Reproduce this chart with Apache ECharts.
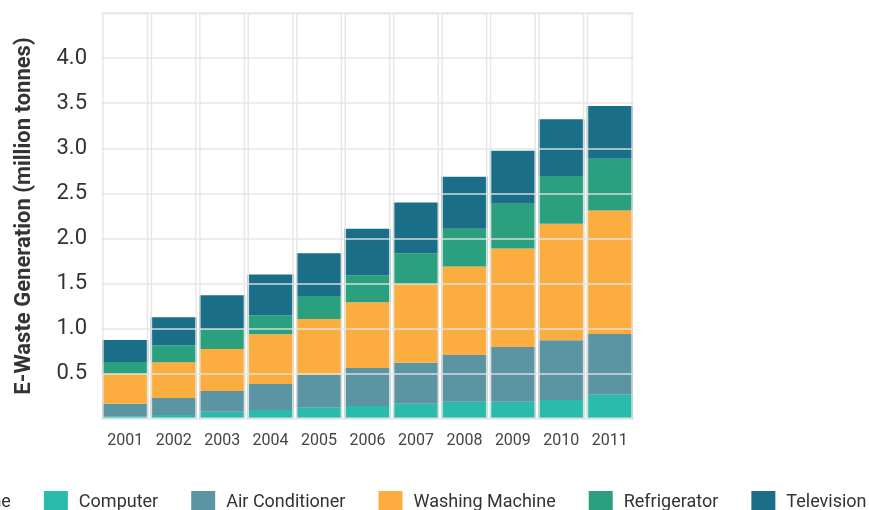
<!DOCTYPE html>
<html>
<head>
<meta charset="utf-8">
<title>E-Waste Generation</title>
<script src="https://cdn.jsdelivr.net/npm/echarts@6/dist/echarts.min.js"></script>
<style>
    html, body { margin: 0; padding: 0; background: #fff; }
    #chart { width: 869px; height: 510px; }
</style>
</head>
<body>
<div id="chart"></div>
<script>
// 年份（类目）
const years = ['2001', '2002', '2003', '2004', '2005', '2006', '2007', '2008', '2009', '2010', '2011'];
// 各类电器的电子垃圾量（百万吨）
const mobilePhone = [0.003, 0.01, 0.01, 0.01, 0.01, 0.01, 0.01, 0.01, 0.01, 0.01, 0.01];
const computer = [0.027, 0.035, 0.07, 0.09, 0.115, 0.135, 0.16, 0.18, 0.18, 0.20, 0.26];
const airConditioner = [0.14, 0.188, 0.231, 0.287, 0.364, 0.419, 0.453, 0.519, 0.607, 0.662, 0.673];
const washingMachine = [0.331, 0.397, 0.464, 0.552, 0.619, 0.729, 0.872, 0.982, 1.093, 1.292, 1.368];
const refrigerator = [0.132, 0.188, 0.221, 0.209, 0.254, 0.298, 0.342, 0.419, 0.497, 0.53, 0.574];
const television = [0.243, 0.31, 0.375, 0.453, 0.474, 0.518, 0.562, 0.575, 0.585, 0.629, 0.585];

const Y_MAX = 4.5;

const colors = {
    'Mobile Phone': '#9ccc3f',
    'Computer': '#2bbbad',
    'Air Conditioner': '#5b95a3',
    'Washing Machine': '#fbae3f',
    'Refrigerator': '#2aa07f',
    'Television': '#1a6e87'
};

const seriesData = [
    ['Mobile Phone', mobilePhone],
    ['Computer', computer],
    ['Air Conditioner', airConditioner],
    ['Washing Machine', washingMachine],
    ['Refrigerator', refrigerator],
    ['Television', television]
];

const chart = echarts.init(document.getElementById('chart'));

const series = seriesData.map(([name, data]) => ({
    name: name,
    type: 'bar',
    stack: 'total',
    data: data,
    barCategoryGap: '5%',
    itemStyle: { color: colors[name] }
}));

// 每列的外框（画在柱子上面）
series.push({
    name: 'frame',
    type: 'bar',
    data: years.map(() => Y_MAX),
    barGap: '-100%',
    barCategoryGap: '5%',
    silent: true,
    z: 4,
    itemStyle: {
        color: 'rgba(0,0,0,0)',
        borderColor: 'rgba(228,228,228,0.9)',
        borderWidth: 1.5
    }
});

chart.setOption({
    animation: false,
    textStyle: { fontFamily: 'Roboto' },
    grid: { left: 101, right: 235, top: 13, bottom: 91 },
    legend: {
        data: seriesData.map(d => d[0]),
        left: -139,
        top: 486,
        width: 1200,
        itemWidth: 24,
        itemHeight: 22,
        itemGap: 33,
        icon: 'rect',
        textStyle: { fontSize: 18, color: '#333', padding: [0, 0, 0, 6] }
    },
    xAxis: {
        type: 'category',
        data: years,
        axisLine: { show: false },
        axisTick: { show: false },
        axisLabel: { fontSize: 16, color: '#444', margin: 14 }
    },
    yAxis: {
        type: 'value',
        min: 0,
        max: Y_MAX,
        interval: 0.5,
        z: 3,
        name: 'E-Waste Generation (million tonnes)',
        nameLocation: 'middle',
        nameGap: 66,
        nameTextStyle: { fontSize: 22, fontWeight: 'bold', color: '#333' },
        axisLine: { show: false },
        axisTick: { show: false },
        axisLabel: {
            fontSize: 22,
            color: '#333',
            margin: 14,
            formatter: v => (v === 0 || v === Y_MAX) ? '' : v.toFixed(1)
        },
        splitLine: { lineStyle: { color: 'rgba(228,228,228,0.9)', width: 1.5 } }
    },
    series: series
});
</script>
</body>
</html>
